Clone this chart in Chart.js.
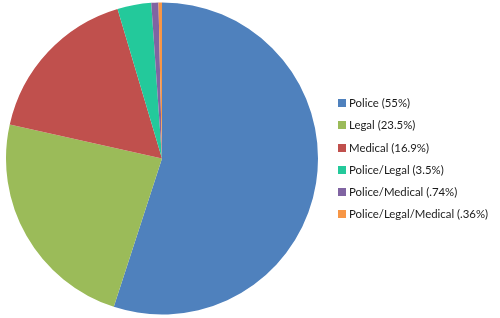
<!DOCTYPE html>
<html>
<head>
<meta charset="utf-8">
<script src="https://cdn.jsdelivr.net/npm/chart.js@4"></script>
<style>
  html, body { margin: 0; padding: 0; background: #fff; }
  #wrap { position: relative; width: 500px; height: 318px; }
  #chart { position: absolute; left: 0; top: 0; }
  #legend { position: absolute; left: 338px; top: 96px; margin: 0; padding: 0; list-style: none;
    font-family: Lato, "Noto Sans", sans-serif; font-size: 11.4px; color: #1a1a1a; }
  #legend li { height: 22.3px; line-height: 13px; display: flex; align-items: flex-start; white-space: nowrap; }
  #legend span.box { display: inline-block; width: 8px; height: 8px; margin: 3px 3px 0 0; }
</style>
</head>
<body>
<div id="wrap">
  <canvas id="chart" width="500" height="318"></canvas>
  <ul id="legend"></ul>
</div>
<script>
const labels = ["Police", "Legal", "Medical", "Police/Legal", "Police/Medical", "Police/Legal/Medical"];
const legendText = ["Police (55%)", "Legal (23.5%)", "Medical (16.9%)", "Police/Legal (3.5%)", "Police/Medical (.74%)", "Police/Legal/Medical (.36%)"];
const values = [55, 23.5, 16.9, 3.5, 0.74, 0.36];
const colors = ["#4f81bd", "#9bbb59", "#c0504d", "#23c99b", "#8064a2", "#f79646"];

new Chart(document.getElementById("chart"), {
  type: "pie",
  data: {
    labels: labels,
    datasets: [
      {
        data: values,
        backgroundColor: colors,
        borderWidth: 0,
      },
    ],
  },
  options: {
    responsive: false,
    animation: false,
    layout: {
      padding: { left: 6, right: 182, top: 2.5, bottom: 3.5 },
    },
    plugins: {
      legend: { display: false },
      tooltip: { enabled: false },
    },
  },
});

document.getElementById("legend").innerHTML = legendText
  .map((t, i) => `<li><span class="box" style="background:${colors[i]}"></span>${t}</li>`)
  .join("");
</script>
</body>
</html>
